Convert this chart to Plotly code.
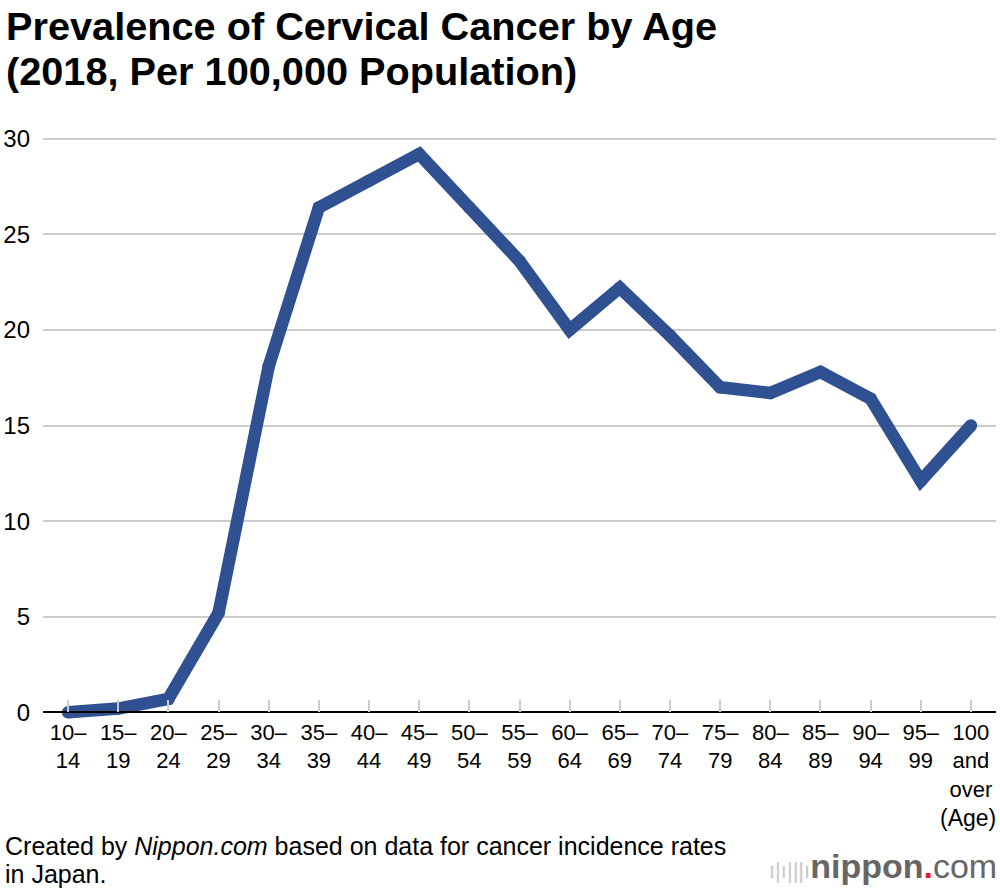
import plotly.graph_objects as go

age_groups = ["10–<br>14", "15–<br>19", "20–<br>24", "25–<br>29", "30–<br>34", "35–<br>39",
              "40–<br>44", "45–<br>49", "50–<br>54", "55–<br>59", "60–<br>64", "65–<br>69",
              "70–<br>74", "75–<br>79", "80–<br>84", "85–<br>89", "90–<br>94", "95–<br>99",
              "100<br>and<br>over"]
prevalence = [0.0, 0.2, 0.7, 5.2, 18.1, 26.4, 27.8, 29.2, 26.4, 23.6, 20.0, 22.2,
              19.7, 17.0, 16.7, 17.8, 16.4, 12.1, 15.0]
y_ticks = [0, 5, 10, 15, 20, 25, 30]

title_lines = ["Prevalence of Cervical Cancer by Age", "(2018, Per 100,000 Population)"]
source_lines = ["Created by <i>Nippon.com</i> based on data for cancer incidence rates", "in Japan."]
axis_unit = "(Age)"

FONT = "Liberation Sans"
y_lo, y_hi = -0.4, 30.4
W, H = 1000, 892
ML, MR, MT, MB = 43, 4, 131, 172
PW, PH = W - ML - MR, H - MT - MB


def px_to_paper(px, py):
    return (px - ML) / PW, (H - MB - py) / PH


x_idx = list(range(len(age_groups)))

fig = go.Figure()
fig.add_trace(go.Scatter(
    x=x_idx, y=prevalence, mode="lines+markers",
    line=dict(color="#2f5191", width=12.5),
    marker=dict(color="#2f5191", size=12.5),
    hoverinfo="skip", showlegend=False,
))

fig.update_layout(
    width=W, height=H,
    paper_bgcolor="white", plot_bgcolor="white",
    margin=dict(l=ML, r=MR, t=MT, b=MB),
    font=dict(family=FONT, color="black", size=22),
    xaxis=dict(
        range=[-0.5, 18.5],
        tickmode="array", tickvals=x_idx, ticktext=age_groups,
        ticks="inside", ticklen=12, tickwidth=1.5, tickcolor="#cccccc",
        showgrid=False, zeroline=False,
        showline=True, linecolor="black", linewidth=1.5,
        anchor="free", position=(0 - y_lo) / (y_hi - y_lo),
        tickfont=dict(size=22),
        fixedrange=True,
    ),
    yaxis=dict(
        range=[y_lo, y_hi],
        tickmode="array", tickvals=y_ticks,
        showgrid=True, gridcolor="#cccccc", gridwidth=1.5,
        zeroline=False, showline=False, ticks="",
        ticklabelstandoff=12,
        tickfont=dict(size=24),
        fixedrange=True,
    ),
)

# title (two lines)
for txt, cy in zip(title_lines, [26, 71]):
    tx, ty = px_to_paper(4, cy)
    fig.add_annotation(
        text=f"<b>{txt}</b>", xref="paper", yref="paper", x=tx, y=ty,
        xanchor="left", yanchor="middle", showarrow=False,
        font=dict(family=FONT, size=39.7, color="black"),
    )

# axis unit
ax, ay = px_to_paper(998, 818)
fig.add_annotation(
    text=axis_unit, xref="paper", yref="paper", x=ax, y=ay,
    xanchor="right", yanchor="middle", showarrow=False,
    font=dict(family=FONT, size=23, color="black"),
)

# source (two lines)
for txt, cy in zip(source_lines, [846, 874]):
    sx, sy = px_to_paper(3, cy)
    fig.add_annotation(
        text=txt, xref="paper", yref="paper", x=sx, y=sy,
        xanchor="left", yanchor="middle", showarrow=False,
        font=dict(family=FONT, size=25, color="black"),
    )

# logo
lx, ly = px_to_paper(999, 866)
fig.add_annotation(
    text="<span style='font-size:22px;color:#c8c8c8'>ı|ı|||ı</span><b>nippon</b>"
         "<span style='color:#e8202a'><b>.</b></span>com",
    xref="paper", yref="paper", x=lx, y=ly,
    xanchor="right", yanchor="middle", showarrow=False,
    font=dict(family=FONT, size=34, color="#666666"),
)

fig.write_html("out.html", config={"displayModeBar": False},
               post_script="document.body.style.margin='0';")
